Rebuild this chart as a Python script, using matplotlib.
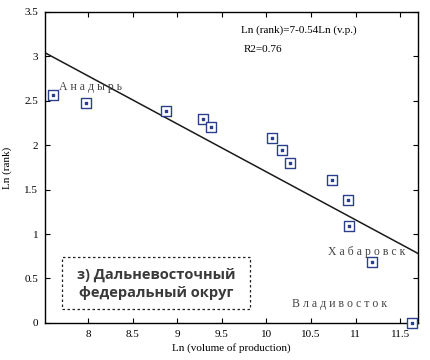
import numpy as np
import matplotlib
matplotlib.use('Agg')
import matplotlib.pyplot as plt
from matplotlib.patches import Rectangle

# данные: ln(объём производства) и ln(ранг)
ln_volume = [7.61, 7.98, 8.88, 9.29, 9.38, 10.06, 10.18, 10.27, 10.74, 10.92, 10.93, 11.18, 11.63]
ln_rank = [2.57, 2.48, 2.39, 2.30, 2.20, 2.08, 1.95, 1.80, 1.61, 1.38, 1.09, 0.69, 0.00]

# линия регрессии
fit_intercept = 7.10
fit_slope = -0.54

x_ticks = [8, 8.5, 9, 9.5, 10, 10.5, 11, 11.5]
y_ticks = [0, 0.5, 1, 1.5, 2, 2.5, 3, 3.5]

serif = ['Liberation Serif', 'DejaVu Serif']
plt.rcParams['font.family'] = serif
plt.rcParams['xtick.direction'] = 'in'
plt.rcParams['ytick.direction'] = 'in'

fig = plt.figure(figsize=(4.3, 3.6), dpi=100)
ax = fig.add_axes([0.105, 0.103, 0.867, 0.864])

xlim = (7.52, 11.70)
xs = np.array(xlim)
ax.plot(xs, fit_intercept + fit_slope * xs, color='#1a1a1a', lw=1.1, zorder=2)

ax.scatter(ln_volume, ln_rank, marker='s', s=48, facecolors='white',
           edgecolors='#2c3f8c', linewidths=1.0, zorder=3, clip_on=False)
ax.scatter(ln_volume, ln_rank, marker='s', s=2, color='#2c3f8c', zorder=4, clip_on=False)

ax.set_xlim(*xlim)
ax.set_ylim(0, 3.5)
ax.set_xticks(x_ticks)
ax.set_xticklabels(['8', '8.5', '9', '9.5', '10', '10.5', '11', '11.5'])
ax.set_yticks(y_ticks)
ax.set_yticklabels(['0', '0.5', '1', '1.5', '2', '2.5', '3', '3.5'])
ax.tick_params(top=True, right=True, labelsize=8, length=3.5, width=0.8, pad=5)
for s in ax.spines.values():
    s.set_linewidth(1.0)

ax.set_xlabel('Ln (volume of production)', fontsize=8, labelpad=3)
ax.set_ylabel('Ln (rank)', fontsize=8, labelpad=9)

ax.text(0.525, 0.94, 'Ln (rank)=7-0.54Ln (v.p.)', transform=ax.transAxes,
        fontsize=8, va='center')
ax.text(0.533, 0.878, 'R2=0.76', transform=ax.transAxes, fontsize=8, va='center')

city_kw = dict(fontsize=8.5, color='#444444', va='center')
ax.text(7.68, 2.66, 'А н а д ы р ь', **city_kw)
ax.text(10.69, 0.80, 'Х а б а р о в с к', **city_kw)
ax.text(10.29, 0.21, 'В л а д и в о с т о к', **city_kw)

box = Rectangle((62 / 430, (360 - 309) / 360), (250 - 62) / 430, (309 - 257) / 360,
                transform=fig.transFigure, fill=False, ls=(0, (2, 2)), lw=0.9,
                edgecolor='#222222')
fig.add_artist(box)
fig.text(156 / 430, (360 - 284) / 360, 'з) Дальневосточный\nфедеральный округ',
         ha='center', va='center', fontsize=10.5, fontweight='bold',
         family=['Open Sans', 'DejaVu Sans'], color='#3a3a3a', linespacing=1.3)

fig.savefig('out.png', dpi=100)
